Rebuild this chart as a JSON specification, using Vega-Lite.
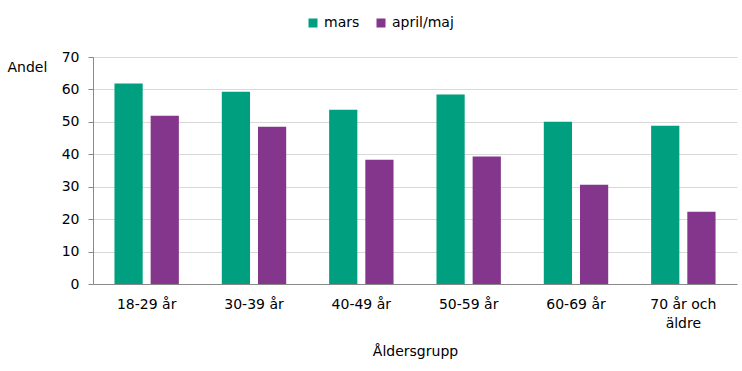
{
  "$schema": "https://vega.github.io/schema/vega-lite/v6.json",
  "width": 644,
  "height": 227,
  "autosize": {"type": "none"},
  "padding": {"left": 93, "top": 57, "right": 5, "bottom": 87},
  "config": {
    "font": "DejaVu Sans",
    "view": {"stroke": null},
    "axis": {"labelFont": "DejaVu Sans", "titleFont": "DejaVu Sans", "labelColor": "#000000", "titleColor": "#000000", "titleFontWeight": "normal"},
    "legend": {"labelFont": "DejaVu Sans"}
  },
  "data": {
    "values": [
      {"grupp": "18-29 år", "period": "mars", "andel": 61.8},
      {"grupp": "18-29 år", "period": "april/maj", "andel": 51.9},
      {"grupp": "30-39 år", "period": "mars", "andel": 59.3},
      {"grupp": "30-39 år", "period": "april/maj", "andel": 48.5},
      {"grupp": "40-49 år", "period": "mars", "andel": 53.7},
      {"grupp": "40-49 år", "period": "april/maj", "andel": 38.3},
      {"grupp": "50-59 år", "period": "mars", "andel": 58.4},
      {"grupp": "50-59 år", "period": "april/maj", "andel": 39.3},
      {"grupp": "60-69 år", "period": "mars", "andel": 50.0},
      {"grupp": "60-69 år", "period": "april/maj", "andel": 30.6},
      {"grupp": "70 år och äldre", "period": "mars", "andel": 48.8},
      {"grupp": "70 år och äldre", "period": "april/maj", "andel": 22.3}
    ]
  },
  "mark": {"type": "bar"},
  "encoding": {
    "x": {
      "field": "grupp",
      "type": "nominal",
      "sort": null,
      "scale": {"paddingInner": 0.4, "paddingOuter": 0.2},
      "axis": {
        "title": "Åldersgrupp",
        "titleFontSize": 14,
        "titlePadding": 14,
        "labelAngle": 0,
        "labelFontSize": 14,
        "labelPadding": 13,
        "labelLineHeight": 19,
        "ticks": false,
        "domainColor": "#898989",
        "domainWidth": 1,
        "labelExpr": "datum.value == '70 år och äldre' ? ['70 år och', 'äldre'] : datum.value"
      }
    },
    "xOffset": {
      "field": "period",
      "type": "nominal",
      "sort": ["mars", "april/maj"],
      "scale": {"paddingInner": 0.22, "paddingOuter": 0}
    },
    "y": {
      "field": "andel",
      "type": "quantitative",
      "scale": {"domain": [0, 70]},
      "axis": {
        "title": "Andel",
        "titleAngle": 0,
        "titleAlign": "left",
        "titleBaseline": "middle",
        "titleX": -86,
        "titleY": 10,
        "titleFontSize": 14,
        "values": [0, 10, 20, 30, 40, 50, 60, 70],
        "labelFontSize": 14,
        "labelPadding": 9,
        "tickSize": 5,
        "tickColor": "#898989",
        "domainColor": "#898989",
        "gridColor": "#d9d9d9",
        "grid": true
      }
    },
    "color": {
      "field": "period",
      "type": "nominal",
      "sort": ["mars", "april/maj"],
      "scale": {"domain": ["mars", "april/maj"], "range": ["#009f7f", "#83368b"]},
      "legend": {
        "title": null,
        "orient": "none",
        "direction": "horizontal",
        "legendX": 213,
        "legendY": -41,
        "symbolType": "square",
        "symbolSize": 81,
        "symbolStrokeWidth": 0,
        "labelFontSize": 14,
        "labelOffset": 4,
        "columnPadding": 14
      }
    }
  }
}
